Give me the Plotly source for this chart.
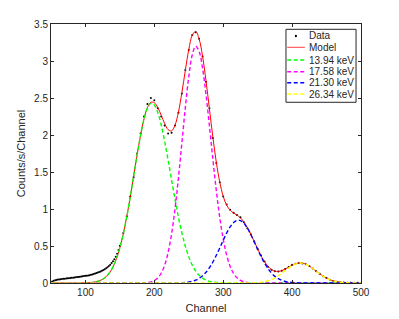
import plotly.graph_objects as go

# Channel axis for the fitted components (5-channel sampling)
channel = list(range(50, 505, 5))

# Measured data: dense on the low-energy tail, then every 5 channels
data_channel = list(range(50, 150, 2)) + list(range(150, 505, 5))
data_counts = [
    .012, .020, .030, .037, .042, .046, .048, .051, .053, .056,
    .058, .060, .063, .065, .068, .070, .072, .075, .077, .080,
    .082, .085, .088, .090, .093, .097, .099, .102, .106, .110,
    .116, .121, .127, .134, .141, .149, .157, .165, .175, .187,
    .200, .214, .230, .248, .269, .293, .321, .355, .395, .445,
    .502, .677, .900, 1.170, 1.430, 1.750, 2.020, 2.250, 2.420, 2.500,
    2.470, 2.360, 2.250, 2.130, 2.020, 2.030, 2.130, 2.300, 2.560, 2.880,
    3.150, 3.350, 3.390, 3.300, 3.060, 2.720, 2.360, 1.960, 1.620, 1.360,
    1.170, 1.060, .990, .950, .920, .890, .820, .740, .660, .560,
    .460, .370, .290, .220, .180, .160, .155, .165, .190, .215,
    .245, .260, .270, .265, .255, .230, .195, .160, .125, .090,
    .066, .044, .028, .018, .011, .007, .005, .003, .003, .002,
    .002,
]

model = [
    0, 0, 0, 0, 0, 0, 0, 0, 0, .001,
    .002, .004, .008, .016, .029, .050, .085, .139, .218, .329,
    .477, .667, .897, 1.161, 1.445, 1.731, 1.997, 2.217, 2.370, 2.443,
    2.437, 2.371, 2.267, 2.155, 2.072, 2.056, 2.133, 2.311, 2.573, 2.874,
    3.154, 3.347, 3.400, 3.298, 3.065, 2.733, 2.351, 1.969, 1.630, 1.361,
    1.171, 1.052, .984, .946, .917, .880, .825, .750, .661, .561,
    .460, .367, .287, .224, .182, .160, .156, .167, .188, .215,
    .241, .260, .271, .269, .253, .229, .196, .160, .124, .092,
    .065, .043, .028, .017, .010, .005, .003, .001, .001, 0,
    0,
]

peak_1394 = [
    0, 0, 0, 0, 0, 0, 0, 0, 0, .001,
    .002, .004, .008, .016, .029, .050, .085, .139, .218, .329,
    .477, .667, .897, 1.161, 1.445, 1.731, 1.996, 2.214, 2.364, 2.428,
    2.404, 2.303, 2.135, 1.914, 1.660, 1.394, 1.132, .889, .676, .497,
    .353, .243, .162, .104, .065, .039, .023, .013, .007, .004,
    .002, .001, 0, 0, 0, 0, 0, 0, 0, 0,
    0, 0, 0, 0, 0, 0, 0, 0, 0, 0,
    0, 0, 0, 0, 0, 0, 0, 0, 0, 0,
    0, 0, 0, 0, 0, 0, 0, 0, 0, 0,
    0,
]

peak_1758 = [
    0, 0, 0, 0, 0, 0, 0, 0, 0, 0,
    0, 0, 0, 0, 0, 0, 0, 0, 0, 0,
    0, 0, 0, 0, 0, 0, .001, .003, .006, .015,
    .033, .068, .132, .241, .412, .662, 1.000, 1.420, 1.893, 2.370,
    2.788, 3.081, 3.199, 3.131, 2.902, 2.549, 2.121, 1.672, 1.248, .883,
    .592, .376, .226, .129, .070, .036, .017, .008, .003, .001,
    0, 0, 0, 0, 0, 0, 0, 0, 0, 0,
    0, 0, 0, 0, 0, 0, 0, 0, 0, 0,
    0, 0, 0, 0, 0, 0, 0, 0, 0, 0,
    0,
]

peak_2130 = [
    0, 0, 0, 0, 0, 0, 0, 0, 0, 0,
    0, 0, 0, 0, 0, 0, 0, 0, 0, 0,
    0, 0, 0, 0, 0, 0, 0, 0, 0, 0,
    0, 0, 0, 0, 0, 0, .001, .002, .004, .007,
    .013, .023, .039, .063, .098, .145, .207, .284, .375, .474,
    .577, .675, .758, .817, .847, .844, .808, .742, .656, .557,
    .454, .356, .268, .194, .135, .090, .058, .036, .021, .012,
    .007, .003, .002, .001, 0, 0, 0, 0, 0, 0,
    0, 0, 0, 0, 0, 0, 0, 0, 0, 0,
    0,
]

peak_2634 = [
    0, 0, 0, 0, 0, 0, 0, 0, 0, 0,
    0, 0, 0, 0, 0, 0, 0, 0, 0, 0,
    0, 0, 0, 0, 0, 0, 0, 0, 0, 0,
    0, 0, 0, 0, 0, 0, 0, 0, 0, 0,
    0, 0, 0, 0, 0, 0, 0, 0, 0, 0,
    0, 0, 0, 0, 0, 0, 0, 0, .002, .003,
    .006, .011, .019, .030, .047, .070, .098, .131, .167, .203,
    .234, .257, .269, .268, .253, .229, .196, .160, .124, .092,
    .065, .043, .028, .017, .010, .005, .003, .001, .001, 0,
    0,
]

legend_labels = ["Data", "Model", "13.94 keV", "17.58 keV", "21.30 keV", "26.34 keV"]
component_colors = ["#00ff00", "#ff00ff", "#0000ff", "#ffff00"]
x_ticks = [100, 200, 300, 400, 500]

AX = "#262626"
FONT = "Liberation Sans, Arial, Helvetica, sans-serif"

fig = go.Figure()
fig.add_trace(go.Scatter(x=data_channel, y=data_counts, mode="markers",
                         marker=dict(color="black", size=2.0), cliponaxis=False,
                         name=legend_labels[0]))
fig.add_trace(go.Scatter(x=channel, y=model, mode="lines",
                         line=dict(color="#ff0000", width=1, shape="spline"),
                         cliponaxis=False, name=legend_labels[1]))
for vals, col, lab in zip([peak_1394, peak_1758, peak_2130, peak_2634],
                          component_colors, legend_labels[2:]):
    fig.add_trace(go.Scatter(x=channel, y=vals, mode="lines",
                             line=dict(color=col, width=1.4, dash="4px,2.5px", shape="spline"),
                             cliponaxis=False, name=lab))

axis_common = dict(ticks="inside", ticklen=3, tickcolor=AX, tickwidth=1,
                   showline=True, linecolor=AX, linewidth=1, mirror="ticks",
                   showgrid=False, zeroline=False, automargin=False,
                   tickfont=dict(size=10, color=AX, family=FONT))

fig.update_xaxes(range=[50, 500], tickvals=x_ticks,
                 title=dict(text="Channel", font=dict(size=11, color=AX, family=FONT), standoff=7),
                 **axis_common)
fig.update_yaxes(range=[0, 3.5], tick0=0, dtick=0.5,
                 title=dict(text="Counts/s/Channel", font=dict(size=11, color=AX, family=FONT), standoff=6),
                 **axis_common)

# MATLAB-style legend box
shapes = [dict(type="rect", xref="paper", yref="paper", x0=0.758, x1=0.984, y0=0.6977, y1=0.9795,
               line=dict(color=AX, width=1), fillcolor="white", layer="above")]
rows_y = [0.9537, 0.910, 0.861, 0.8158, 0.7734, 0.7297]
shapes.append(dict(type="circle", xref="paper", yref="paper", x0=0.7865, x1=0.7935,
                   y0=rows_y[0] - 0.0045, y1=rows_y[0] + 0.0045,
                   fillcolor="black", line=dict(width=0), layer="above"))
shapes.append(dict(type="line", xref="paper", yref="paper", x0=0.762, x1=0.819,
                   y0=rows_y[1], y1=rows_y[1], line=dict(color="#ff4040", width=1), layer="above"))
for yy, col in zip(rows_y[2:], component_colors):
    shapes.append(dict(type="line", xref="paper", yref="paper", x0=0.762, x1=0.819,
                       y0=yy, y1=yy, line=dict(color=col, width=1.4, dash="4px,2.5px"), layer="above"))
annotations = [dict(x=0.8248, y=yy, xref="paper", yref="paper", text=lab, showarrow=False,
                    xanchor="left", yanchor="middle", font=dict(size=10, color=AX, family=FONT))
               for yy, lab in zip(rows_y, legend_labels)]

fig.update_layout(width=399, height=319, margin=dict(l=51, r=38, t=24, b=36),
                  plot_bgcolor="white", paper_bgcolor="white", showlegend=False,
                  font=dict(family=FONT, size=10, color=AX),
                  shapes=shapes, annotations=annotations)

fig.write_html("out.html", config={"displayModeBar": False},
               post_script="document.body.style.margin='0';")
